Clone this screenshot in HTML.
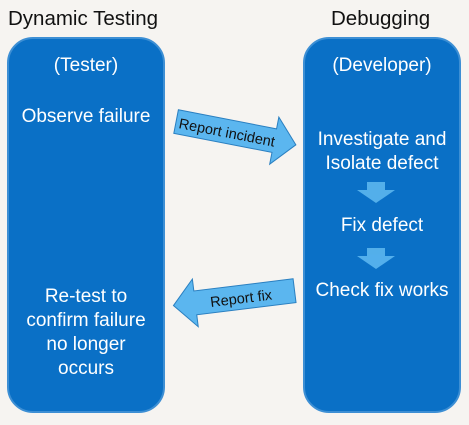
<!DOCTYPE html><html><head><style>
body{margin:0;width:469px;height:425px;background:#f6f4f1;position:relative;overflow:hidden;font-family:"Liberation Sans",sans-serif}
.h{position:absolute;top:7px;font-size:20.5px;color:#111}
.box{position:absolute;top:37px;width:154px;height:372px;background:#0a70c6;border:2px solid #3d8fd4;border-radius:26px}
.t{position:absolute;width:158px;text-align:center;color:#fff;font-size:19px;line-height:24px}
</style></head><body>
<div class="h" style="left:8px">Dynamic Testing</div>
<div class="h" style="left:331px">Debugging</div>
<div class="box" style="left:7px"></div>
<div class="box" style="left:303px"></div>
<div class="t" style="left:7px;top:54px">(Tester)</div>
<div class="t" style="left:7px;top:105px">Observe failure</div>
<div class="t" style="left:7px;top:285px">Re-test to<br>confirm failure<br>no longer<br>occurs</div>
<div class="t" style="left:303px;top:54px">(Developer)</div>
<div class="t" style="left:303px;top:128px">Investigate and<br>Isolate defect</div>
<div class="t" style="left:303px;top:214px">Fix defect</div>
<div class="t" style="left:303px;top:279px">Check fix works</div>
<svg width="469" height="425" style="position:absolute;left:0;top:0">
<g fill="#5bb6ef" opacity="0.9">
<polygon points="367,182 385,182 385,190 395,190 376,203 357,190 367,190"/>
<polygon points="367,248 385,248 385,256 395,256 376,269 357,256 367,256"/>
</g>
<g transform="translate(235,133) rotate(11)">
<polygon points="-60,-12 40,-12 40,-24 62,0 40,24 40,12 -60,12" fill="#5bb6ef" stroke="#2a7fc0" stroke-width="1"/>
<text x="-8" y="6" text-anchor="middle" font-size="14.5" fill="#111" font-family="Liberation Sans,sans-serif">Report incident</text>
</g>
<g transform="translate(235,298) rotate(-7)">
<polygon points="60,-12 -40,-12 -40,-24 -62,0 -40,24 -40,12 60,12" fill="#5bb6ef" stroke="#2a7fc0" stroke-width="1"/>
<text x="6" y="6" text-anchor="middle" font-size="14.5" fill="#111" font-family="Liberation Sans,sans-serif">Report fix</text>
</g>
</svg>
</body></html>
